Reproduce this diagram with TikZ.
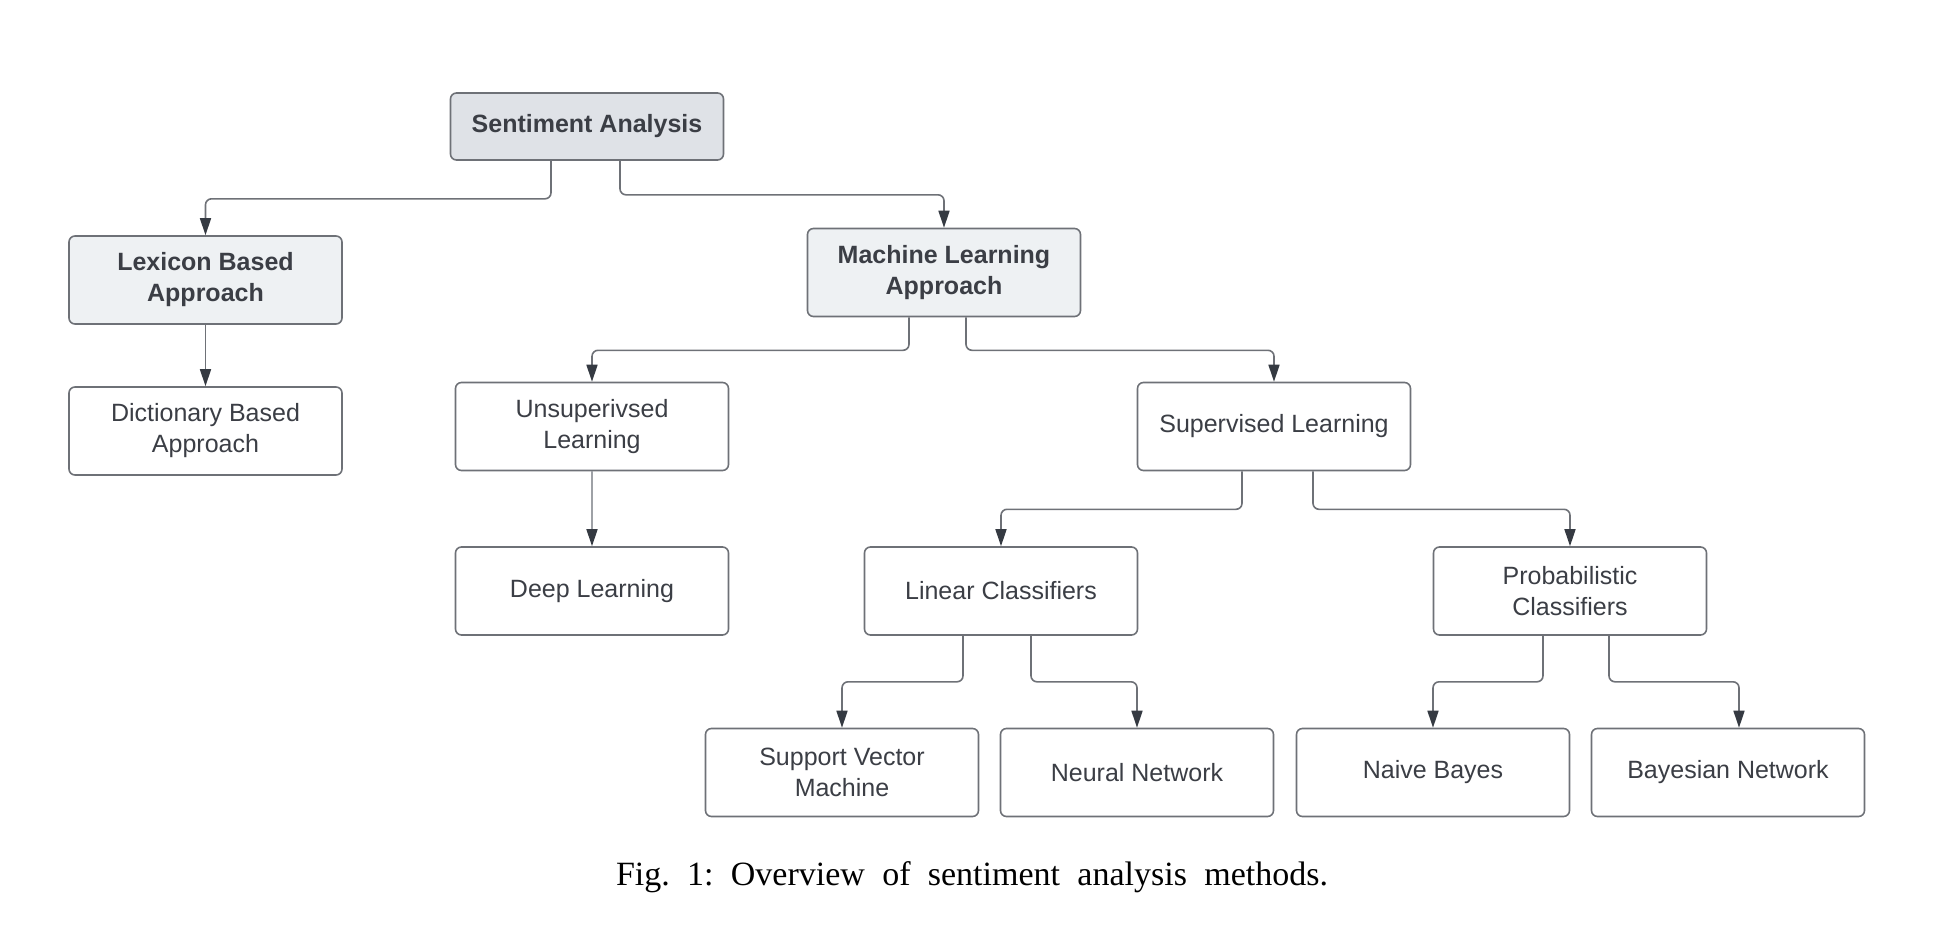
\documentclass[tikz,border=0pt]{standalone}
\usepackage{fontspec}
\setmainfont{Liberation Sans}
\newfontfamily\capfont{Liberation Serif}
\usetikzlibrary{arrows.meta,calc}
\definecolor{txt}{HTML}{3B3E45}
\definecolor{edge}{HTML}{6E7177}
\definecolor{tipc}{HTML}{353A42}
\definecolor{topfill}{HTML}{DFE2E7}
\definecolor{midfill}{HTML}{EEF1F3}
\definecolor{light}{HTML}{9EA1A6}
\tikzset{
  box/.style={draw=edge, line width=0.8pt, rounded corners=3pt, fill=white,
    minimum width=136.5pt, minimum height=44pt, inner sep=2pt, align=center,
    text=txt, font=\fontsize{12.5}{15.5}\selectfont},
  bbox/.style={box, fill=midfill, font=\fontsize{12.5}{15.5}\selectfont\bfseries},
  topbox/.style={bbox, fill=topfill, minimum height=33.5pt},
  conn/.style={draw=edge, line width=0.8pt, rounded corners=3pt,
    -{Triangle[length=8.5pt,width=5.5pt,color=tipc]}},
  lconn/.style={conn, draw=light}
}
\begin{document}
\begin{tikzpicture}[x=0.5pt,y=-0.5pt]
\useasboundingbox (0,0) rectangle (1938,948);
\node[topbox] (sa) at (587,126.5) {Sentiment Analysis};
\node[bbox] (lex) at (205.5,280) {Lexicon Based\\Approach};
\node[bbox] (ml) at (944,272.5) {Machine Learning\\Approach};
\node[box] (dict) at (205.5,431) {Dictionary Based\\Approach};
\node[box] (unsup) at (592,426.5) {Unsuperivsed\\Learning};
\node[box] (sup) at (1274,426.5) {Supervised Learning};
\node[box] (deep) at (592,591) {Deep Learning};
\node[box] (lin) at (1001,591) {Linear Classifiers};
\node[box] (prob) at (1570,591) {Probabilistic\\Classifiers};
\node[box] (svm) at (842,772.5) {Support Vector\\Machine};
\node[box] (nn) at (1137,772.5) {Neural Network};
\node[box] (nb) at (1433,772.5) {Naive Bayes};
\node[box] (bn) at (1728,772.5) {Bayesian Network};
\coordinate (bnin) at ($(bn.north)+(11,0)$);

\draw[conn] ($(sa.south)+(-36,0)$) -- ++(0,38) -| (lex.north);
\draw[conn] ($(sa.south)+(33,0)$) -- ++(0,34) -| (ml.north);
\draw[conn] (lex.south) -- (dict.north);
\draw[conn] ($(ml.south)+(-35,0)$) -- ++(0,33) -| (unsup.north);
\draw[conn] ($(ml.south)+(22,0)$) -- ++(0,33) -| (sup.north);
\draw[lconn] (unsup.south) -- (deep.north);
\draw[conn] ($(sup.south)+(-32,0)$) -- ++(0,38) -| (lin.north);
\draw[conn] ($(sup.south)+(39,0)$) -- ++(0,38) -| (prob.north);
\draw[conn] ($(lin.south)+(-38,0)$) -- ++(0,46) -| (svm.north);
\draw[conn] ($(lin.south)+(30,0)$) -- ++(0,46) -| (nn.north);
\draw[conn] ($(prob.south)+(-27,0)$) -- ++(0,46) -| (nb.north);
\draw[conn] ($(prob.south)+(39,0)$) -- ++(0,46) -| (bnin);

\node[font=\capfont\fontsize{17}{20}\selectfont, text=black, inner sep=0pt] (cap) at (972,877)
  {\frenchspacing\makebox[356pt][s]{Fig. 1: Overview of sentiment analysis methods.}};
\end{tikzpicture}
\end{document}
